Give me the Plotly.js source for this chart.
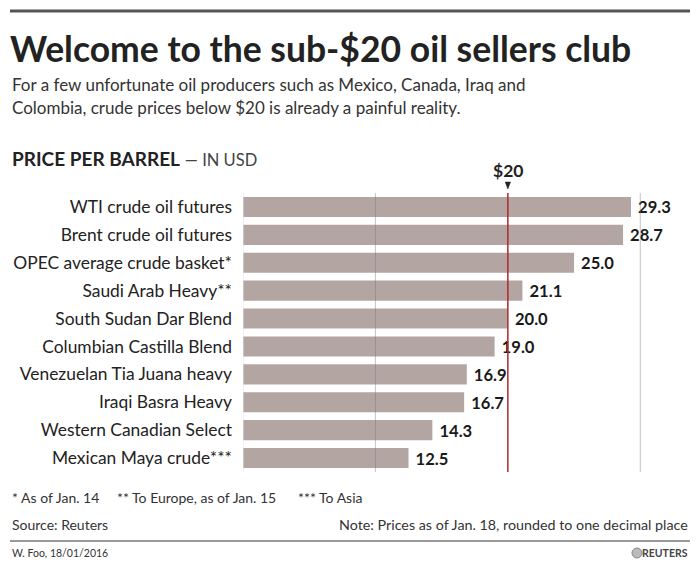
<!DOCTYPE html>
<html><head><meta charset="utf-8">
<script src="https://cdn.plot.ly/plotly-3.0.1.min.js"></script>
<style>html,body{margin:0;padding:0;background:#fff}#c{width:700px;height:567px}</style>
</head><body><div id="c"></div>
<script>
var categories = ["WTI crude oil futures","Brent crude oil futures","OPEC average crude basket*","Saudi Arab Heavy**","South Sudan Dar Blend","Columbian Castilla Blend","Venezuelan Tia Juana heavy","Iraqi Basra Heavy","Western Canadian Select","Mexican Maya crude***"];
var prices = [29.3, 28.7, 25.0, 21.1, 20.0, 19.0, 16.9, 16.7, 14.3, 12.5];
var gridValues = [0, 10, 30];
var thresholdValue = 20;

var F = "Lato, 'Open Sans', sans-serif";
var W = 700, H = 567, L = 243, R = 20, T = 193, B = 95;
var PW = W - L - R, PH = H - T - B;
function px(x){ return (x - L) / PW; }
function py(y){ return (H - B - y) / PH; }

var trace = {
  type: "bar", orientation: "h",
  y: categories, x: prices,
  marker: {color: "#b2a5a2"},
  text: prices.map(function(v){ return " " + v.toFixed(1); }),
  textposition: "outside", cliponaxis: false,
  textfont: {family: F, size: 19, color: "#1a1a1a", weight: "bold"},
  hoverinfo: "none"
};

var shapes = [];
gridValues.forEach(function(g){
  shapes.push({type:"line", xref:"x", yref:"paper", x0:g, x1:g, y0:0, y1:1,
    line:{color: g===0 ? "#e2e2e2" : "rgba(120,120,120,0.45)", width:1}, layer:"above"});
});
shapes.push({type:"line", xref:"x", yref:"paper", x0:thresholdValue, x1:thresholdValue, y0:0, y1:1,
  line:{color:"#b0282c", width:1.5}, layer:"above"});
// top rule and footer rule
shapes.push({type:"line", xref:"paper", yref:"paper", x0:px(10), x1:px(690), y0:py(11), y1:py(11), line:{color:"#555", width:3}});
shapes.push({type:"line", xref:"paper", yref:"paper", x0:px(10), x1:px(690), y0:py(541), y1:py(541), line:{color:"#333", width:1}});
// triangle marker
shapes.push({type:"path", xref:"x", yref:"paper",
  path: "M 19.8," + py(182) + " L 20.2," + py(182) + " L 20," + py(189) + " Z",
  fillcolor:"#222", line:{color:"#222", width:0.5}});
// reuters logo circle
shapes.push({type:"circle", xref:"paper", yref:"paper", x0:px(632), x1:px(642), y0:py(558), y1:py(548),
  fillcolor:"#bbb", line:{color:"#888", width:1}});

function ann(text, x, y, size, opts){
  var a = {text:text, xref:"paper", yref:"paper", x:px(x), y:py(y), xanchor:"left", yanchor:"middle",
    showarrow:false, font:{family:F, size:size, color:"#222"}};
  if (opts) for (var k in opts) { if (k==="font") { for (var f in opts.font) a.font[f]=opts.font[f]; } else a[k]=opts[k]; }
  return a;
}

var annotations = [
  ann("<b>Welcome to the sub-$20 oil sellers club</b>", 8, 48, 35.5, {font:{color:"#222"}}),
  ann("For a few unfortunate oil producers such as Mexico, Canada, Iraq and", 10, 84, 17, {font:{color:"#333"}}),
  ann("Colombia, crude prices below $20 is already a painful reality.", 10, 107, 17, {font:{color:"#333"}}),
  ann("<b>PRICE PER BARREL</b> <span style='font-size:16.5px;color:#444'>— IN USD</span>", 10, 158, 19),
  ann("<b>$20</b>", 508, 171, 17.5, {xanchor:"center"}),
  ann("* As of Jan. 14", 10, 497, 14, {font:{color:"#333"}}),
  ann("** To Europe, as of Jan. 15", 115, 497, 14, {font:{color:"#333"}}),
  ann("*** To Asia", 296, 497, 14, {font:{color:"#333"}}),
  ann("Source: Reuters", 10, 524, 14, {font:{color:"#333"}}),
  ann("Note: Prices as of Jan. 18, rounded to one decimal place", 690, 524, 14.3, {xanchor:"right", font:{color:"#333"}}),
  ann("W. Foo, 18/01/2016", 10, 553, 10.5, {font:{color:"#333"}}),
  ann("<b>REUTERS</b>", 690, 553, 10.5, {xanchor:"right", font:{color:"#444"}})
];

var layout = {
  width: W, height: H,
  margin: {l:L, r:R, t:T, b:B, pad:0},
  paper_bgcolor:"#fff", plot_bgcolor:"#fff",
  showlegend:false,
  bargap: 0.28,
  xaxis: {range:[0, 33], showgrid:false, zeroline:false, showticklabels:false, ticks:"", fixedrange:true},
  yaxis: {autorange:"reversed", type:"category", showgrid:false, zeroline:false, ticks:"",
    ticklabelstandoff: 10, tickfont:{family:F, size:17.4, color:"#222"}, fixedrange:true},
  shapes: shapes,
  annotations: annotations
};

Plotly.newPlot("c", [trace], layout, {displayModeBar:false, staticPlot:true});
</script></body></html>
